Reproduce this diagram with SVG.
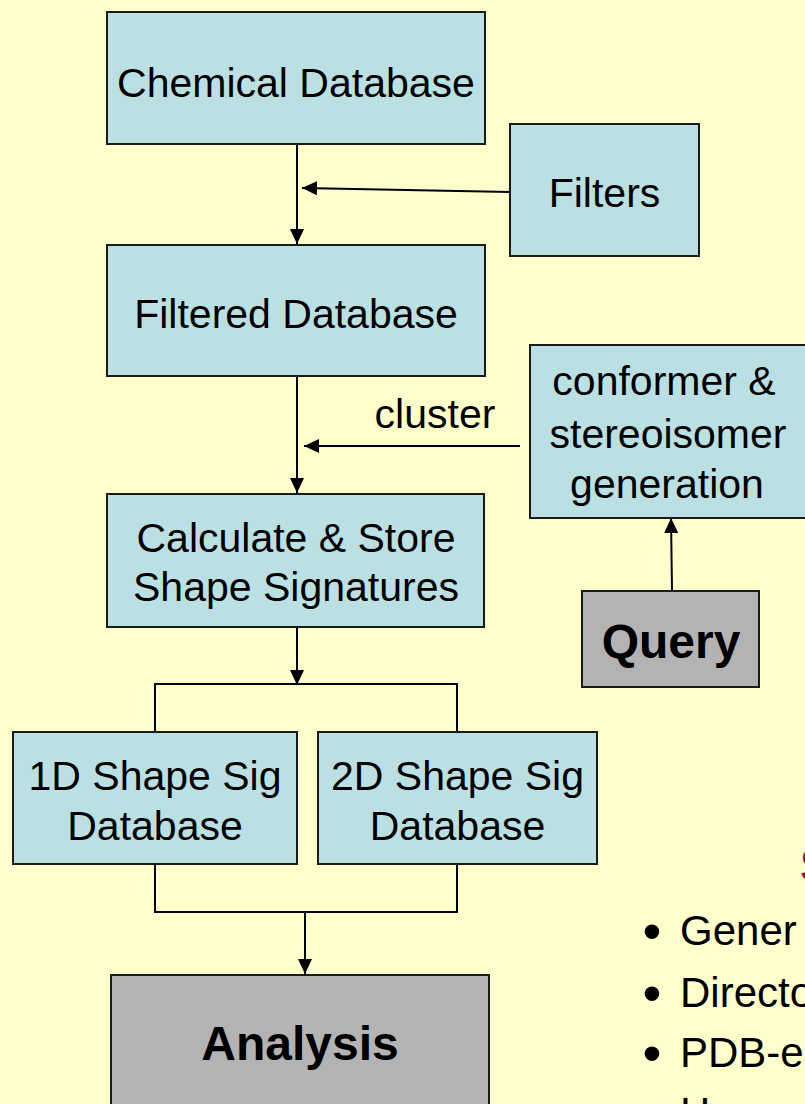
<svg xmlns="http://www.w3.org/2000/svg" width="805" height="1104" viewBox="0 0 805 1104">
  <style>
    .box { fill: #BAE0E3; stroke: #1a1a1a; stroke-width: 2; }
    .gray { fill: #B3B3B3; stroke: #1a1a1a; stroke-width: 2; }
    .lbl { font-family: "Liberation Sans", Arial, sans-serif; font-size: 41px; fill: #000; text-anchor: middle; }
    .bold { font-family: "Liberation Sans", Arial, sans-serif; font-size: 48px; font-weight: bold; fill: #000; text-anchor: middle; }
    .edge { fill: none; stroke: #000; stroke-width: 2; }
    .body { font-family: "Liberation Sans", Arial, sans-serif; font-size: 42px; fill: #000; }
    .dot { font-family: "Liberation Sans", Arial, sans-serif; font-size: 54px; fill: #000; text-anchor: middle; }
    .head { font-family: "Liberation Sans", Arial, sans-serif; font-size: 48px; font-weight: bold; fill: #9B0A35; }
  </style>
  <defs>
    <marker id="arrow" markerUnits="userSpaceOnUse" markerWidth="15" markerHeight="14" refX="15" refY="7" orient="auto">
      <path d="M0,0 L15,7 L0,14 z" fill="#000"/>
    </marker>
  </defs>

  <rect width="805" height="1104" fill="#FFFFCC"/>

  <g id="connectors">
    <line class="edge" x1="297" y1="144" x2="297" y2="244" marker-end="url(#arrow)"/>
    <line class="edge" x1="510" y1="192" x2="302" y2="188" marker-end="url(#arrow)"/>
    <line class="edge" x1="297" y1="376" x2="297" y2="493" marker-end="url(#arrow)"/>
    <line class="edge" x1="520" y1="446" x2="304" y2="446" marker-end="url(#arrow)"/>
    <line class="edge" x1="672" y1="591" x2="671" y2="518" marker-end="url(#arrow)"/>
    <line class="edge" x1="297" y1="627" x2="297" y2="685" marker-end="url(#arrow)"/>
    <polyline class="edge" points="155,732 155,684 457,684 457,732"/>
    <polyline class="edge" points="155,864 155,912 457,912 457,864"/>
    <line class="edge" x1="305" y1="912" x2="305" y2="974" marker-end="url(#arrow)"/>
    <text class="lbl" x="435" y="428">cluster</text>
  </g>

  <g id="chemical-db">
    <rect class="box" x="107" y="12" width="378" height="132"/>
    <text class="lbl" x="296" y="97">Chemical Database</text>
  </g>

  <g id="filters">
    <rect class="box" x="510" y="124" width="189" height="132"/>
    <text class="lbl" x="604.5" y="207">Filters</text>
  </g>

  <g id="filtered-db">
    <rect class="box" x="107" y="245" width="378" height="131"/>
    <text class="lbl" x="296" y="328">Filtered Database</text>
  </g>

  <g id="conformer">
    <rect class="box" x="530" y="345" width="276" height="173"/>
    <text class="lbl" x="664" y="395">conformer &amp;</text>
    <text class="lbl" x="668" y="448">stereoisomer</text>
    <text class="lbl" x="667" y="498">generation</text>
  </g>

  <g id="calculate">
    <rect class="box" x="107" y="494" width="377" height="133"/>
    <text class="lbl" x="296" y="552">Calculate &amp; Store</text>
    <text class="lbl" x="296" y="601">Shape Signatures</text>
  </g>

  <g id="query">
    <rect class="gray" x="582" y="591" width="177" height="96"/>
    <text class="bold" x="671" y="658">Query</text>
  </g>

  <g id="sig-1d">
    <rect class="box" x="13" y="732" width="284" height="132"/>
    <text class="lbl" x="155" y="790">1D Shape Sig</text>
    <text class="lbl" x="155" y="840">Database</text>
  </g>

  <g id="sig-2d">
    <rect class="box" x="318" y="732" width="279" height="132"/>
    <text class="lbl" x="457.5" y="790">2D Shape Sig</text>
    <text class="lbl" x="457.5" y="840">Database</text>
  </g>

  <g id="analysis">
    <rect class="gray" x="111" y="975" width="378" height="140"/>
    <text class="bold" x="300" y="1060">Analysis</text>
  </g>

  <g id="notes">
    <text class="head" x="800" y="882">S</text>
    <text class="dot" x="652" y="950">•</text>
    <text class="body" x="680" y="945">Gener</text>
    <text class="dot" x="652" y="1012">•</text>
    <text class="body" x="680" y="1007">Directo</text>
    <text class="dot" x="652" y="1072">•</text>
    <text class="body" x="680" y="1067">PDB-e</text>
    <text class="dot" x="652" y="1132">•</text>
    <text class="body" x="680" y="1127">Hazar</text>
  </g>
</svg>
